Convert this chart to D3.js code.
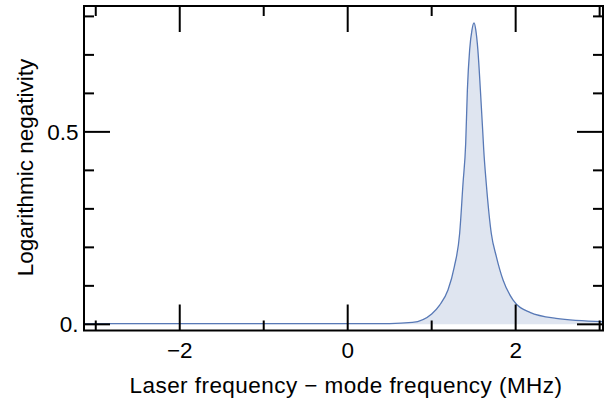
<!DOCTYPE html>
<html>
<head>
<meta charset="utf-8">
<script src="https://cdn.jsdelivr.net/npm/d3@7/dist/d3.min.js"></script>
<style>
  body { margin: 0; background: #fff; }
  svg text { font-family: "Liberation Sans", Arial, sans-serif; fill: #000; }
</style>
</head>
<body>
<div id="chart"></div>
<script>
// detuning (MHz) and logarithmic negativity
var freq = [-3.14, -2, -1, 0, 0.5, 0.77, 1.0, 1.095, 1.194, 1.27, 1.333, 1.373, 1.405, 1.425, 1.452, 1.48, 1.504, 1.525, 1.55, 1.58, 1.607, 1.62, 1.65, 1.71, 1.77, 1.85, 1.97, 2.17, 2.48, 3.04];
var logNeg = [0.002, 0.002, 0.002, 0.002, 0.002, 0.005, 0.027, 0.05, 0.089, 0.15, 0.236, 0.366, 0.47, 0.609, 0.713, 0.765, 0.783, 0.765, 0.713, 0.609, 0.505, 0.453, 0.366, 0.236, 0.176, 0.115, 0.063, 0.031, 0.0155, 0.007];

var xMajor = [-2, 0, 2],
    xMinor = [-3, -1, 1, 3],
    xLabels = ['\u22122', '0', '2'];
var yMajor = [0, 0.5],
    yMinor = [0.1, 0.2, 0.3, 0.4, 0.6, 0.7, 0.8],
    yLabels = ['0.', '0.5'];

var W = 605, H = 407;
var box = { left: 84, right: 603, top: 6, bottom: 330.5 };
var fontSize = '22.5px';

var data = freq.map(function(f, i) { return { f: f, v: logNeg[i] }; });

var svg = d3.select('#chart').append('svg')
  .attr('width', W)
  .attr('height', H);

var x = d3.scaleLinear().domain([-3.14, 3.04]).range([box.left, box.right]);
var y = d3.scaleLinear().domain([-0.016, 0.827]).range([box.bottom, box.top]);

svg.append('clipPath').attr('id', 'clip')
  .append('rect')
  .attr('x', box.left).attr('y', box.top)
  .attr('width', box.right - box.left).attr('height', box.bottom - box.top);

var plot = svg.append('g').attr('clip-path', 'url(#clip)');

plot.append('path')
  .datum(data)
  .attr('fill', '#dfe5f0')
  .attr('d', d3.area()
    .x(function(d) { return x(d.f); })
    .y0(y(0))
    .y1(function(d) { return y(d.v); })
    .curve(d3.curveMonotoneX));

plot.append('path')
  .datum(data)
  .attr('fill', 'none')
  .attr('stroke', '#5879b6')
  .attr('stroke-width', 1.3)
  .attr('d', d3.line()
    .x(function(d) { return x(d.f); })
    .y(function(d) { return y(d.v); })
    .curve(d3.curveMonotoneX));

// frame with ticks on all sides, pointing in
var majorLen = 26, minorLen = 10;
var axes = svg.append('g').attr('stroke', '#000').attr('stroke-width', 2);

function xTicks(vals, len) {
  vals.forEach(function(v) {
    axes.append('line').attr('x1', x(v)).attr('x2', x(v)).attr('y1', box.bottom).attr('y2', box.bottom - len);
    axes.append('line').attr('x1', x(v)).attr('x2', x(v)).attr('y1', box.top).attr('y2', box.top + len);
  });
}
function yTicks(vals, len) {
  vals.forEach(function(v) {
    axes.append('line').attr('y1', y(v)).attr('y2', y(v)).attr('x1', box.left).attr('x2', box.left + len);
    axes.append('line').attr('y1', y(v)).attr('y2', y(v)).attr('x1', box.right).attr('x2', box.right - len);
  });
}
xTicks(xMajor, majorLen);
xTicks(xMinor, minorLen);
yTicks(yMajor, majorLen);
yTicks(yMinor, minorLen);

axes.append('rect')
  .attr('x', box.left).attr('y', box.top)
  .attr('width', box.right - box.left).attr('height', box.bottom - box.top)
  .attr('fill', 'none');

// tick labels
svg.selectAll('.xlab')
  .data(xMajor)
  .enter().append('text')
  .attr('class', 'xlab')
  .attr('x', function(d) { return x(d); })
  .attr('y', 357.5)
  .attr('text-anchor', 'middle')
  .style('font-size', fontSize)
  .text(function(d, i) { return xLabels[i]; });

svg.selectAll('.ylab')
  .data(yMajor)
  .enter().append('text')
  .attr('class', 'ylab')
  .attr('x', 78.5)
  .attr('y', function(d) { return y(d) + 8; })
  .attr('text-anchor', 'end')
  .style('font-size', fontSize)
  .text(function(d, i) { return yLabels[i]; });

// axis titles
svg.append('text')
  .attr('x', 346)
  .attr('y', 393)
  .attr('text-anchor', 'middle')
  .style('font-size', fontSize)
  .style('letter-spacing', '0.45px')
  .text('Laser frequency \u2212 mode frequency (MHz)');

svg.append('text')
  .attr('transform', 'translate(33,167.5) rotate(-90)')
  .attr('text-anchor', 'middle')
  .style('font-size', fontSize)
  .text('Logarithmic negativity');
</script>
</body>
</html>
